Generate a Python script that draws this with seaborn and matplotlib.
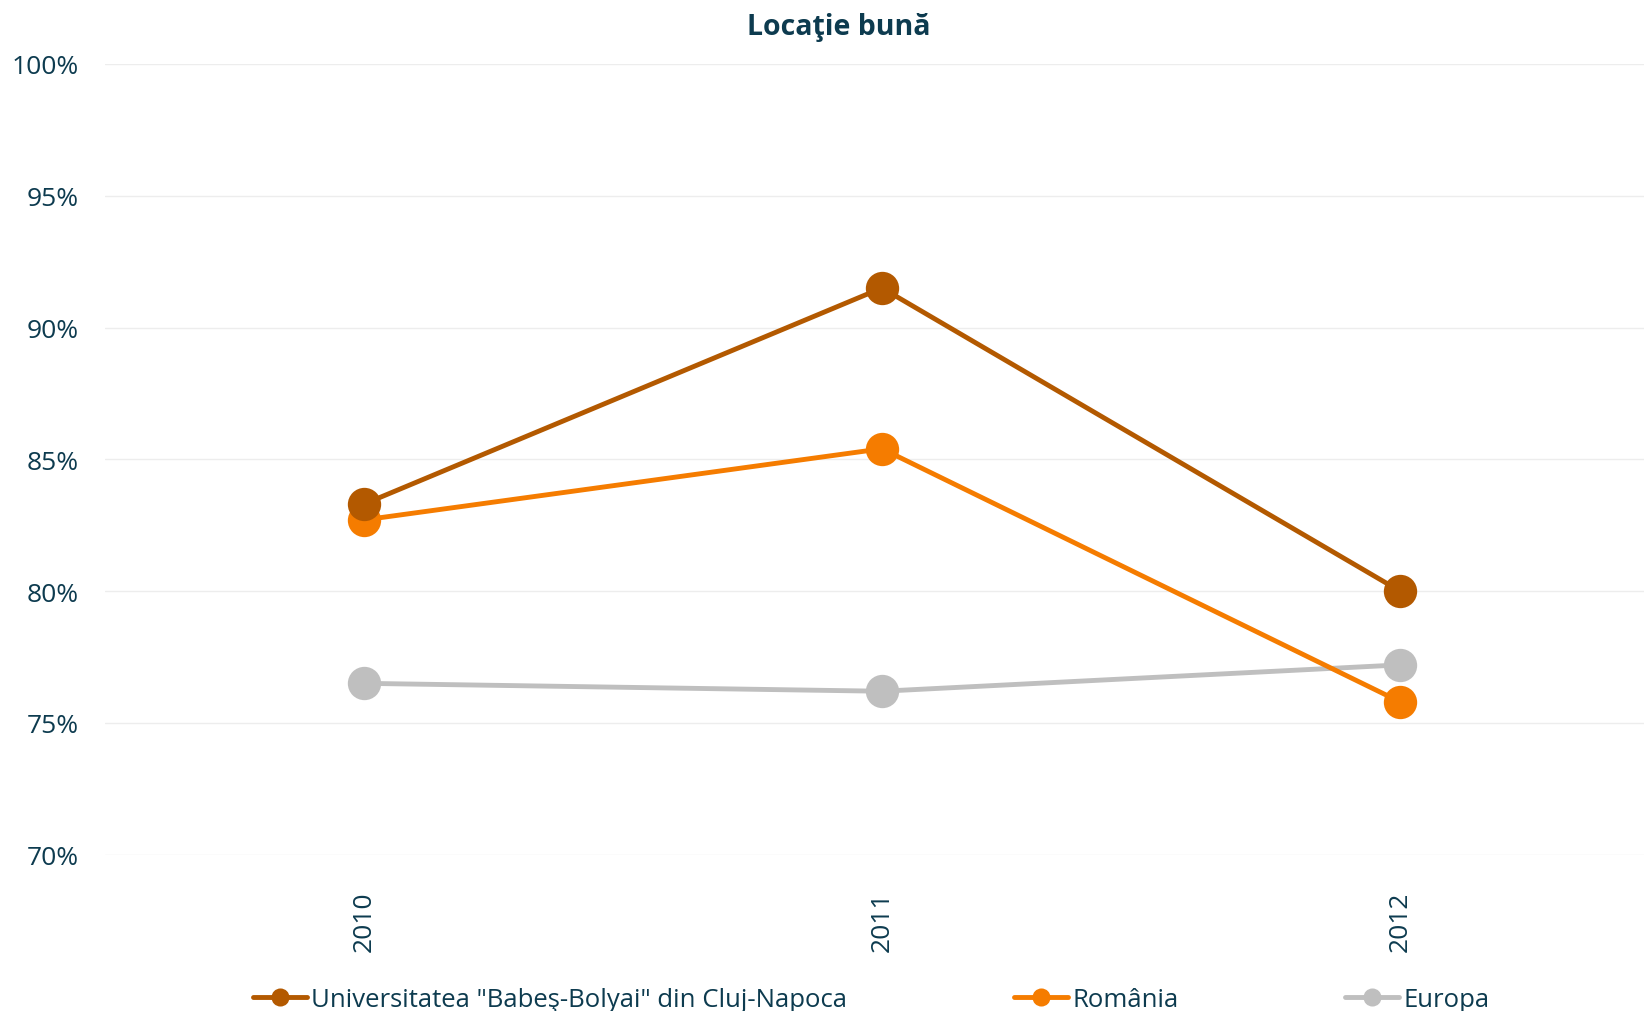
import matplotlib
matplotlib.use("Agg")
import matplotlib.pyplot as plt
import seaborn as sns
import pandas as pd
from matplotlib.ticker import FuncFormatter
from matplotlib.lines import Line2D

years = ["2010", "2011", "2012"]
ubb = [83.3, 91.5, 80.0]
romania = [82.7, 85.4, 75.8]
europa = [76.5, 76.2, 77.2]
series_names = ['Universitatea "Babeş-Bolyai" din Cluj-Napoca', "România", "Europa"]
colors = ["#b35900", "#f57c00", "#bfbfbf"]

df = pd.DataFrame({
    "year": years * 3,
    "value": ubb + romania + europa,
    "serie": [series_names[0]] * 3 + [series_names[1]] * 3 + [series_names[2]] * 3,
})

sns.set_style("white")
plt.rcParams["font.family"] = ["Open Sans", "DejaVu Sans"]
text_color = "#0d3b4f"

fig = plt.figure(figsize=(16.44, 10.12), dpi=100)
ax = fig.add_axes([0.0638, 0.1545, 0.9362, 0.7813])

# Europa desenat primul, ca in original (sub celelalte)
for name, col in zip(series_names[::-1], colors[::-1]):
    sub = df[df["serie"] == name]
    sns.lineplot(data=sub, x="year", y="value", color=col, linewidth=3.5,
                 marker="o", markersize=24, markeredgewidth=0, sort=False,
                 ax=ax, legend=False)

ax.set_ylim(70, 100)
ax.set_xlim(-0.5, 2.471)
ax.set_yticks([70, 75, 80, 85, 90, 95, 100])
ax.yaxis.set_major_formatter(FuncFormatter(lambda v, p: f"{v:.0f}%"))
ax.grid(axis="y", color="#ededed", linewidth=1)
ax.grid(axis="x", visible=False)
for s in ax.spines.values():
    s.set_visible(False)
ax.set_xlabel("")
ax.set_ylabel("")
ax.tick_params(axis="y", length=0, pad=19, labelsize=19, labelcolor=text_color)
ax.tick_params(axis="x", length=0, pad=26, labelsize=19, labelcolor=text_color,
               labelrotation=90)

handles = [Line2D([], [], color=c, linewidth=3.5, marker="o", markersize=13,
                  markeredgewidth=0) for c in colors]
fig.legend(handles, series_names, loc="center", bbox_to_anchor=(0.53, 0.011),
           ncol=3, frameon=False, fontsize=18.5, handlelength=2.1,
           handletextpad=0.15, columnspacing=6.5, labelcolor=text_color,
           borderaxespad=0)

fig.text(0.51, 0.973, "Locaţie bună", ha="center", va="center",
         fontsize=20.5, fontweight="bold", color=text_color)

fig.savefig("out.png", dpi=100)
